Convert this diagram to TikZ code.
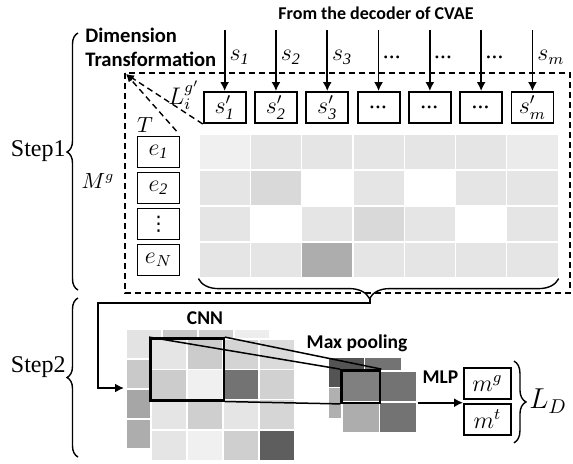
\documentclass[tikz,border=0pt]{standalone}
\usepackage{fontspec}
\setmainfont{Liberation Serif}
\newfontfamily\tagfont{Carlito}
\newfontfamily\symfont{DejaVu Sans}
\usetikzlibrary{positioning,fit,arrows.meta,decorations.pathreplacing}
\newcommand{\smallvdots}{{\symfont\fontsize{10}{10}\selectfont ⋮}}
\tikzset{vecbox/.style = {draw, line width=0.95pt, minimum width=21pt, minimum height=15.5pt, inner sep=0pt, font=\fontsize{12}{14}\selectfont}}
\tikzset{heatcell/.style = {draw=white, line width=0.6pt, minimum width=25.65pt, minimum height=18pt, inner sep=0pt}}
\tikzset{convcell/.style = {draw=white, line width=0.7pt, minimum width=18pt, minimum height=15.15pt, inner sep=0pt}}
\tikzset{poolcell/.style = {draw=white, line width=0.7pt, minimum width=18.75pt, minimum height=15.5pt, inner sep=0pt}}
\tikzset{tag/.style = {font=\tagfont\bfseries\fontsize{9.75}{11.5}\selectfont, inner sep=0pt}}
\tikzset{steptext/.style = {font=\fontsize{12}{14}\selectfont, inner sep=0pt}}
\tikzset{mathtag/.style = {font=\fontsize{12}{14}\selectfont, inner sep=0pt}}
\tikzset{flow/.style = {line width=0.85pt, -{Latex[length=4.5pt, width=4.5pt]}}}
\tikzset{dashframe/.style = {line width=0.7pt, dash pattern=on 3pt off 2pt}}
\tikzset{curly/.style = {decorate, line width=0.7pt, decoration={brace, amplitude=#1}}}
\tikzset{kernel/.style = {draw, line width=1.2pt, inner sep=0pt}}

\begin{document}
\begin{tikzpicture}[x=0.5pt, y=-0.5pt, >=Latex]
  \useasboundingbox (0,0) rectangle (573,463);

  % heat map M^g
  \foreach \shades [count=\r] in {{6,10,10,10,10,10,8},{10,15,0,10,0,10,10},{10,0,10,15,10,0,10},{10,10,32,10,10,10,10}}
    \foreach \s [count=\c] in \shades
      \node[heatcell, fill=black!\s] (g-\r-\c) at ({199+51.3*(\c-0.5)}, {134+36*(\r-0.5)}) {};

  % decoder outputs
  \node[tag, font=\tagfont\bfseries\fontsize{9}{11}\selectfont] (decoder) at (376,13) {From the decoder of CVAE};
  \foreach \inp/\out [count=\c] in {$s_{\mathit{1}}$/$s_{\mathit{1}}'$, $s_{\mathit{2}}$/$s_{\mathit{2}}'$, $s_{\mathit{3}}$/$s_{\mathit{3}}'$, \textit{...}/\textit{...}, \textit{...}/\textit{...}, \textit{...}/\textit{...}, $s_m$/$s_m'$} {
    \node[vecbox] (s\c) at ({199+51.3*(\c-0.5)}, 107.5) {\out};
    \coordinate (src\c) at ({199+51.3*(\c-0.5)}, 30);
    \draw[flow] (src\c) -- node[mathtag, right=2pt, pos=0.45] {\inp} (s\c);
  }

  % entity column
  \foreach \lab [count=\r] in {$e_{\mathit{1}}$, $e_{\mathit{2}}$, \smallvdots, $e_N$}
    \node[vecbox] (e\r) at (158.5, {134+36*(\r-0.5)}) {\lab};

  \draw[dashframe] (125,73) rectangle (570,293);
  \coordinate (corner) at (126,74);
  \draw[dashframe, -{Latex[length=4pt, width=3.5pt]}] (s1.south west) -- (corner);
  \draw[dashframe, -{Latex[length=4pt, width=3.5pt]}, shorten <=3pt] (e1.north east) -- (corner);
  \node[mathtag] (li) at (184,95) {$L_i^{g'}$};
  \node[mathtag, font=\fontsize{10.5}{12}\selectfont] (tlab) at (145,125) {$T$};
  \node[mathtag, font=\fontsize{10.5}{12}\selectfont] (mglab) at (98,181) {$M^g$};
  \node[tag, font=\tagfont\bfseries\fontsize{10.3}{12}\selectfont, align=left, anchor=north west] (dimtr) at (85,28) {Dimension\\Transformation};

  % steps
  \draw[curly=5.5pt, decoration={aspect=0.537}] (78,290) -- (78,33);
  \node[steptext, anchor=east] (step1) at (66,151.5) {Step1};
  \draw[curly=5.5pt] (78,457) -- (78,298);
  \node[steptext, anchor=east] (step2) at (66,367.5) {Step2};

  % brace under the map, on to the CNN
  \draw[curly=10pt, decoration={aspect=0.525}] (g-4-7.south east) -- (g-4-1.south west);
  \coordinate (gtip) at (370,298);
  \coordinate (loopback) at (98,303);
  \coordinate (cnnin) at (124,388);
  \draw[flow] (gtip) |- (loopback) |- (cnnin);

  % CNN feature maps
  \foreach \shades [count=\r] in {{11,21,19,7},{21,10,10,10},{35,10,10,10},{32,10,10,10}}
    \foreach \s [count=\c] in \shades
      \node[convcell, fill=black!\s] (cb-\r-\c) at ({126+36*(\c-0.5)}, {329+30*(\r-0.5)}) {};
  \foreach \shades [count=\r] in {{10,20,17,14},{20,6,55,18},{10,19,10,16},{10,6,19,63}}
    \foreach \s [count=\c] in \shades
      \node[convcell, fill=black!\s] (cf-\r-\c) at ({151+36*(\c-0.5)}, {339+30.3*(\r-0.5)}) {};
  \node[tag] (cnn) at (205,318) {CNN};
  \node[kernel, fit=(cf-1-1)(cf-2-2)] (conv) {};

  % max pooling
  \foreach \shades [count=\r] in {{67,55},{31,55}}
    \foreach \s [count=\c] in \shades
      \node[poolcell, fill=black!\s] (pb-\r-\c) at ({329+36*(\c-0.5)}, {358+30*(\r-0.5)}) {};
  \foreach \shades [count=\r] in {{50,55},{32,55}}
    \foreach \s [count=\c] in \shades
      \node[poolcell, fill=black!\s] (pf-\r-\c) at ({342+37.5*(\c-0.5)}, {371+31*(\r-0.5)}) {};
  \node[kernel, fit=(pf-1-1)] (pool) {};
  \node[tag] (maxpool) at (357,343) {Max pooling};
  \draw[line width=0.75pt] (conv.north west) -- (pool.north west);
  \draw[line width=0.75pt] (conv.north east) -- (pool.north east);
  \draw[line width=0.75pt] (conv.south east) -- (pool.south west);

  % MLP outputs
  \node[vecbox, minimum width=23.5pt] (mg) at (487.5,383.5) {$m^g$};
  \node[vecbox, minimum width=23.5pt, below=1.5pt of mg] (mt) {$m^t$};
  \draw[flow] (pf-1-2.south east) -- node[tag, above=9pt] {MLP} (mt.north west |- pf-1-2.south east);
  \draw[curly=6pt] ([xshift=1pt, yshift=3pt]mg.north east) -- ([xshift=1pt, yshift=-3.5pt]mt.south east);
  \node[mathtag, font=\fontsize{14}{16}\selectfont, anchor=west] (ld) at (529,401) {$L_D$};
\end{tikzpicture}
\end{document}
